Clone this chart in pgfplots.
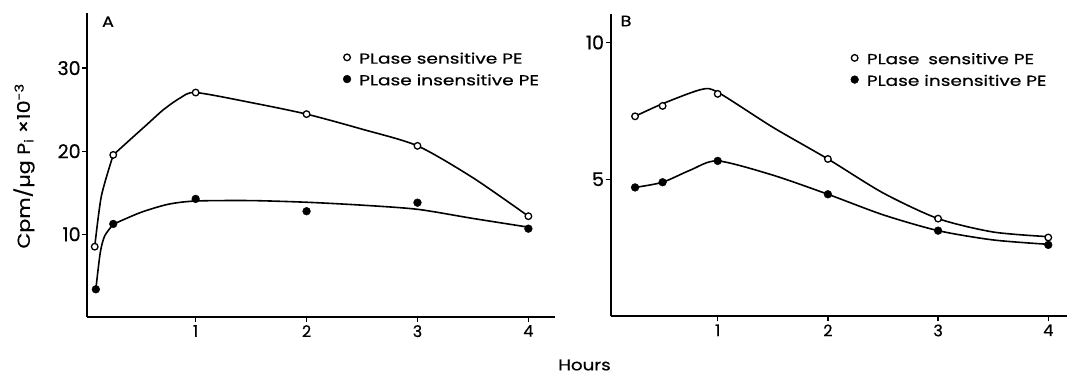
\documentclass[border=0pt]{standalone}
\usepackage{fontspec}
\setmainfont{Poppins}[FakeBold=0.6]
\newfontfamily\widefont{Poppins}[FakeStretch=1.28, FakeBold=0.6]
\newfontfamily\labfont{Poppins}[FakeStretch=1.18, FakeBold=0.6]
\usepackage{pgfplots}
\pgfplotsset{compat=1.18}

\pgfplotsset{
  panel/.style={
    scale only axis, anchor=south west,
    axis x line*=bottom, axis y line*=left,
    axis line style={line width=1.8pt, black},
    every tick/.style={line width=1.3pt, black},
    major tick length=5pt,
    tick align=outside,
    xtick={1,2,3,4},
    /pgf/number format/assume math mode=true,
    x tick label style={font=\fontsize{16}{16}\selectfont},
    y tick label style={font=\fontsize{19}{19}\selectfont, inner xsep=1.5pt},
    clip=false,
    legend style={draw=none, fill=none, inner sep=0pt, anchor=north west,
      font=\widefont\fontsize{14.5}{14.5}\selectfont, row sep=4.2pt,
      nodes={inner sep=2pt, text height=10.5pt, text depth=3pt},
      cells={anchor=west}},
    legend image code/.code={\draw[#1] plot coordinates {(0pt,2.5pt)}; \path (-4pt,0pt) (10pt,0pt);},
  },
  curve/.style={black, line width=1.6pt, smooth, tension=0.45, no marks, forget plot},
  openm/.style={only marks, mark=*, mark size=3.3pt, mark options={fill=white, draw=black, line width=1.3pt}},
  fillm/.style={only marks, mark=*, mark size=3.9pt, mark options={fill=black, draw=black}},
}

\begin{document}
\begin{tikzpicture}[x=1pt,y=1pt]
\useasboundingbox (0pt,0pt) rectangle (1070pt,375pt);

% Panel A
\begin{axis}[panel, at={(87.3pt,58.3pt)}, width=467.7pt, height=303.4pt,
  xmin=0.023, xmax=4.24, ymin=0.07, ymax=36.6, ytick={10,20,30},
  legend style={at={(0.546,0.876)}}]
\addplot[curve] coordinates {(0.09,8.5) (0.15,14.6) (0.257,19.55)};
\addplot[curve] coordinates {(0.257,19.55) (0.41,21.4) (0.56,23.2) (0.71,25.0) (0.86,26.4) (1,27.06) (1.5,25.85) (2,24.46) (2.5,22.65) (3,20.64) (3.5,16.8) (4,12.17)};
\addplot[curve] coordinates {(0.1,3.37) (0.14,7.8) (0.18,9.8) (0.257,11.2)};
\addplot[curve] coordinates {(0.257,11.2) (0.5,12.6) (0.75,13.6) (1,14.0) (1.5,14.05) (2,13.85) (2.5,13.5) (3,13.0) (3.5,11.9) (4,10.85)};
\addplot[openm] coordinates {(0.09,8.5) (0.257,19.55) (1,27.06) (2,24.46) (3,20.64) (4,12.17)};
\addlegendentry{PLase sensitive PE}
\addplot[fillm] coordinates {(0.1,3.37) (0.257,11.24) (1,14.25) (2,12.77) (3,13.8) (4,10.67)};
\addlegendentry{PLase insensitive PE}
\end{axis}

% Panel B
\begin{axis}[panel, at={(610.7pt,59pt)}, width=456.3pt, height=302pt,
  xmin=0.029, xmax=4.17, ymin=0, ymax=11.04, ytick={5,10},
  legend style={at={(0.525,0.876)}}]
\addplot[curve] coordinates {(0.25,7.30) (0.5,7.76) (0.85,8.28) (1,8.18) (1.5,6.9) (2,5.74) (2.5,4.5) (3,3.56) (3.5,3.07) (4,2.90)};
\addplot[curve] coordinates {(0.25,4.70) (0.5,4.89) (0.75,5.33) (1,5.67) (1.5,5.15) (2,4.45) (2.5,3.70) (3,3.12) (3.5,2.78) (4,2.62)};
\addplot[openm] coordinates {(0.25,7.30) (0.5,7.68) (1,8.12) (2,5.74) (3,3.56) (4,2.87)};
\addlegendentry{PLase\hspace{4pt} sensitive PE}
\addplot[fillm] coordinates {(0.25,4.70) (0.5,4.89) (1,5.67) (2,4.45) (3,3.12) (4,2.60)};
\addlegendentry{PLase insensitive PE}
\end{axis}

\node[font=\labfont\fontsize{15}{15}\selectfont] at (108pt,353.3pt) {A};
\node[font=\labfont\fontsize{15}{15}\selectfont] at (626pt,354pt) {B};
\node[font=\labfont\fontsize{15.5}{15.5}\selectfont] at (584.5pt,10pt) {Hours};
\node[rotate=90, font=\labfont\fontsize{17.5}{17.5}\selectfont] at (24pt,209pt) {Cpm/µg P\textsubscript{i} ×10\textsuperscript{-3}};
\end{tikzpicture}
\end{document}
